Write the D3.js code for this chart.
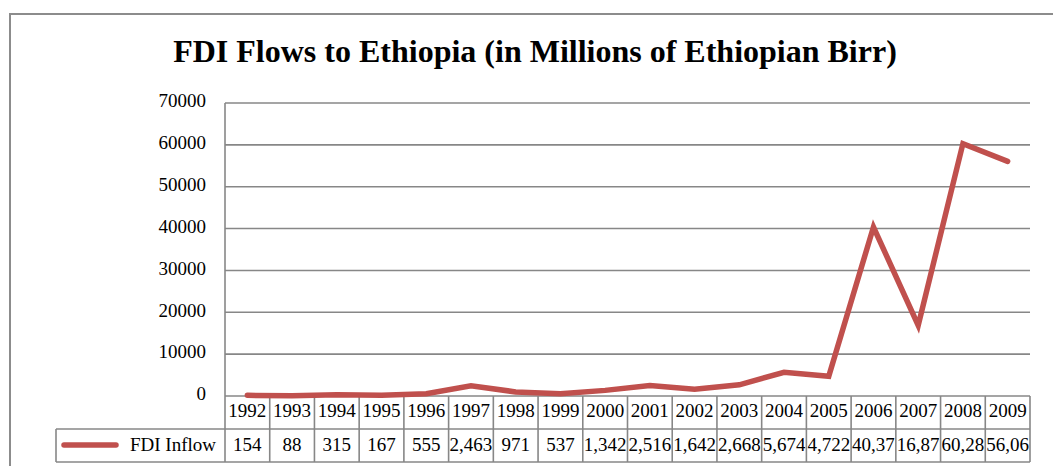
<!DOCTYPE html>
<html><head><meta charset="utf-8">
<script src="https://cdn.jsdelivr.net/npm/d3@7"></script>
<style>
html,body{margin:0;padding:0;background:#fff;}
svg{display:block;}
text{font-family:"Liberation Serif","Times New Roman",serif;fill:#000;}
</style></head>
<body>
<svg id="chart" width="1053" height="466"></svg>
<script>
const title = "FDI Flows to Ethiopia (in Millions of Ethiopian Birr)";
const seriesName = "FDI Inflow";
const years = ["1992","1993","1994","1995","1996","1997","1998","1999","2000","2001","2002","2003","2004","2005","2006","2007","2008","2009"];
const fdiValues = [154,88,315,167,555,2463,971,537,1342,2516,1642,2668,5674,4722,40370,16870,60280,56060];
const tableLabels = ["154","88","315","167","555","2,463","971","537","1,342","2,516","1,642","2,668","5,674","4,722","40,37","16,87","60,28","56,06"];
const yTicks = [0,10000,20000,30000,40000,50000,60000,70000];

const svg = d3.select("#chart");
const W = 1053, H = 466;
const plot = {left:225, right:1030, top:103, bottom:396};
const gridColor = "#878787";
const lineColor = "#C0504D";

// outer frame (left and top visible)
svg.append("path").attr("d", `M10,${H+2} L10,14 L${W+2},14`)
  .attr("fill","none").attr("stroke","#8c8c8c").attr("stroke-width",2);

svg.append("text").attr("x", 535).attr("y", 62).attr("text-anchor","middle")
  .attr("font-size", 32).attr("font-weight","bold").text(title);

const x = d3.scaleBand().domain(years).range([plot.left, plot.right]).padding(0);
const y = d3.scaleLinear().domain([0,70000]).range([plot.bottom, plot.top]);

// gridlines
svg.append("g").selectAll("line").data(yTicks).join("line")
  .attr("x1", plot.left).attr("x2", plot.right)
  .attr("y1", d=>y(d)).attr("y2", d=>y(d))
  .attr("stroke", gridColor).attr("stroke-width", 1.6);

// y axis labels
const yAxis = d3.axisLeft(y).tickValues(yTicks).tickSize(0).tickPadding(19).tickFormat(d3.format("d"));
const ya = svg.append("g").attr("transform", `translate(${plot.left},0)`).call(yAxis);
ya.select(".domain").remove();
ya.selectAll("text").attr("font-family","Liberation Serif, serif").attr("font-size",19).attr("fill","#000").attr("dy","0.2em");

// data table
const row1Top = plot.bottom, row1Bot = 429, row2Bot = 462, tableLeft = 56;
const tg = svg.append("g");
tg.append("line").attr("x1", plot.left).attr("x2", plot.right).attr("y1", row1Bot).attr("y2", row1Bot).attr("stroke", gridColor).attr("stroke-width",1.6);
tg.append("line").attr("x1", tableLeft).attr("x2", plot.left).attr("y1", row1Bot).attr("y2", row1Bot).attr("stroke", gridColor).attr("stroke-width",1.6);
tg.append("line").attr("x1", tableLeft).attr("x2", plot.right).attr("y1", row2Bot).attr("y2", row2Bot).attr("stroke", gridColor).attr("stroke-width",1.6);
tg.append("line").attr("x1", tableLeft).attr("x2", tableLeft).attr("y1", row1Bot).attr("y2", row2Bot).attr("stroke", gridColor).attr("stroke-width",1.6);
const bounds = years.map(d=>x(d)).concat([x(years[years.length-1]) + x.bandwidth()]);
tg.selectAll("line.v").data(bounds).join("line").attr("class","v")
  .attr("x1", d=>d).attr("x2", d=>d).attr("y1", (d,i)=> i===0 ? plot.top : row1Top).attr("y2", row2Bot)
  .attr("stroke", gridColor).attr("stroke-width",1.6);

const defs = svg.append("defs");
years.forEach((yr,i)=>{
  defs.append("clipPath").attr("id","c"+i).append("rect")
    .attr("x", x(yr)+1).attr("y", row1Top).attr("width", x.bandwidth()-2).attr("height", row2Bot-row1Top);
});

tg.selectAll("text.yr").data(years).join("text").attr("class","yr")
  .attr("x", d=>x(d)+x.bandwidth()/2).attr("y", 417).attr("text-anchor","middle")
  .attr("font-size",19).text(d=>d);
tg.selectAll("text.val").data(tableLabels).join("text").attr("class","val")
  .attr("clip-path",(d,i)=>`url(#c${i})`)
  .attr("x", (d,i)=>x(years[i])+x.bandwidth()/2).attr("y", 451).attr("text-anchor","middle")
  .attr("font-size",19).text(d=>d);

tg.append("line").attr("x1", 64).attr("x2", 116).attr("y1", 445).attr("y2", 445)
  .attr("stroke", lineColor).attr("stroke-width", 5.5).attr("stroke-linecap","round");
tg.append("text").attr("x", 216).attr("y", 451).attr("text-anchor","end").attr("font-size",19).text(seriesName);

const line = d3.line().x((d,i)=>x(years[i])+x.bandwidth()/2).y(d=>y(d));
svg.append("path").datum(fdiValues).attr("d", line)
  .attr("fill","none").attr("stroke", lineColor).attr("stroke-width", 5.5)
  .attr("stroke-linecap","round").attr("stroke-linejoin","miter");
</script>
</body></html>
